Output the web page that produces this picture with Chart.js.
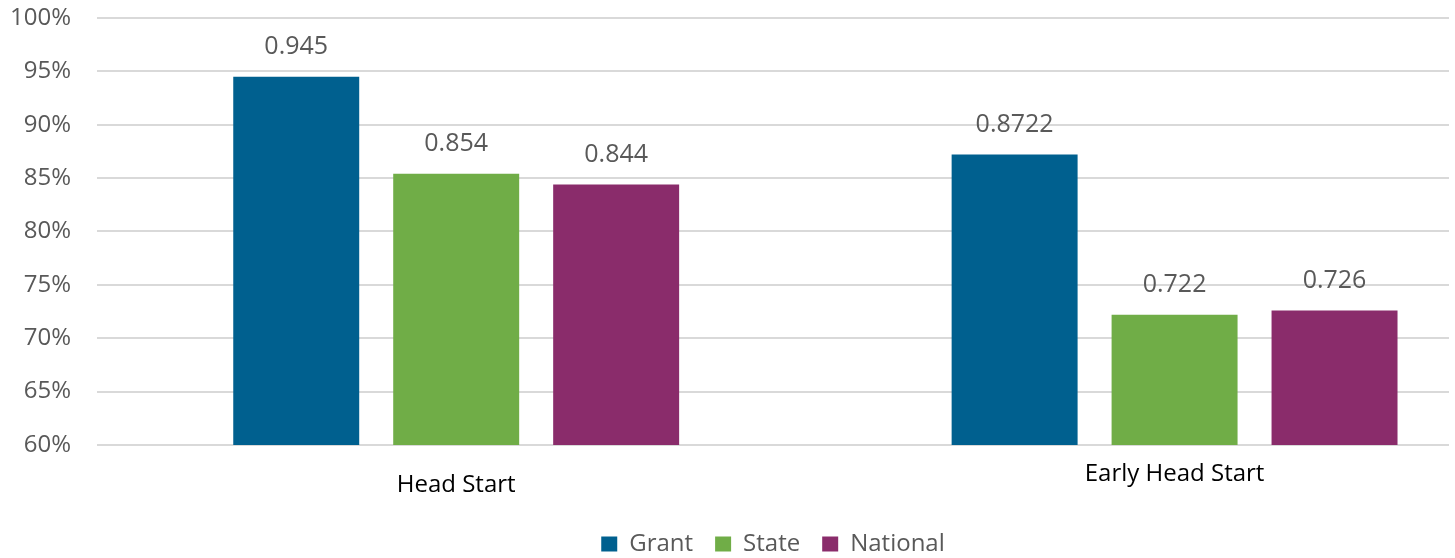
<!DOCTYPE html>
<html>
<head>
<meta charset="utf-8">
<script src="https://cdn.jsdelivr.net/npm/chart.js@4"></script>
<style>
  html, body { margin: 0; padding: 0; background: #ffffff; }
  #wrap { width: 1455px; height: 558px; }
</style>
</head>
<body>
<div id="wrap"><canvas id="c" width="1455" height="558"></canvas></div>
<script>
// ---- data ----
const categories = ['Head Start', 'Early Head Start'];
const seriesNames = ['Grant', 'State', 'National'];
const grantValues = [0.945, 0.8722];
const stateValues = [0.854, 0.722];
const nationalValues = [0.844, 0.726];
const yMin = 0.6;
const yMax = 1.0;
const yStep = 0.05;

// ---- styles ----
const colors = ['#00608F', '#70AD47', '#8A2C6B'];
const FONT = "'Open Sans', 'Noto Sans', sans-serif";

const toPoints = vals => vals.map((v, i) => ({ x: i, y: v }));
const seriesValues = [grantValues, stateValues, nationalValues];

const valueLabels = {
  id: 'valueLabels',
  afterDatasetsDraw(chart) {
    const ctx = chart.ctx;
    ctx.save();
    ctx.font = '25px ' + FONT;
    ctx.fillStyle = '#595959';
    ctx.textAlign = 'center';
    ctx.textBaseline = 'alphabetic';
    chart.data.datasets.forEach((ds, di) => {
      const meta = chart.getDatasetMeta(di);
      meta.data.forEach((bar, i) => {
        ctx.fillText(String(seriesValues[di][i]), bar.x, bar.y - 22.5);
      });
    });
    ctx.restore();
  }
};

new Chart(document.getElementById('c'), {
  type: 'bar',
  data: {
    datasets: seriesNames.map((name, k) => ({
      label: name,
      data: toPoints(seriesValues[k]),
      backgroundColor: colors[k],
      borderWidth: 0,
      categoryPercentage: 0.668,
      barPercentage: 0.7875
    }))
  },
  options: {
    responsive: false,
    animation: false,
    layout: { padding: { left: 0, right: 6, top: 18, bottom: -8 } },
    plugins: {
      tooltip: { enabled: false },
      legend: {
        position: 'bottom',
        fullSize: false,
        labels: {
          boxWidth: 16,
          boxHeight: 15,
          padding: 22,
          color: '#595959',
          font: { family: FONT, size: 24 }
        }
      }
    },
    scales: {
      x: {
        type: 'linear',
        offset: false,
        min: -0.5,
        max: 1.382,
        grid: { display: false, drawTicks: false },
        border: { display: false },
        afterBuildTicks: scale => { scale.ticks = categories.map((c, i) => ({ value: i })); },
        afterFit: scale => { scale.height = 65; },
        ticks: {
          padding: 15,
          color: '#000000',
          maxRotation: 0,
          autoSkip: false,
          font: ctx => ({ family: FONT, size: 24, lineHeight: ctx.index === 0 ? 2.06 : 1.2 }),
          callback: v => categories[v]
        }
      },
      y: {
        min: yMin,
        max: yMax,
        grid: { color: '#D9D9D9', lineWidth: 2, drawTicks: true, tickLength: 26, tickColor: 'rgba(0,0,0,0)' },
        border: { display: false },
        afterFit: scale => { scale.width = 97; },
        ticks: {
          stepSize: yStep,
          padding: 0,
          color: '#595959',
          font: { family: FONT, size: 24 },
          callback: v => Math.round(v * 100) + '%'
        }
      }
    }
  },
  plugins: [valueLabels]
});
</script>
</body>
</html>
